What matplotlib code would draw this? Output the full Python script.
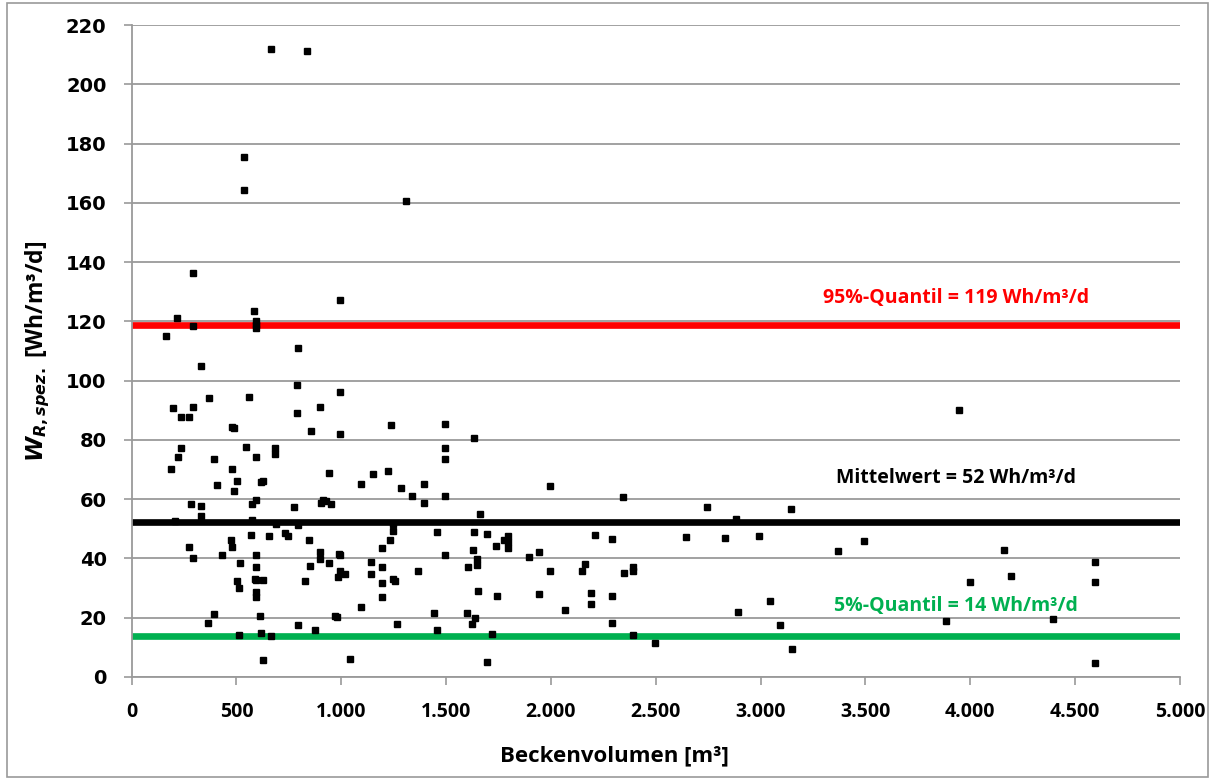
import matplotlib.pyplot as plt
from matplotlib.ticker import FuncFormatter, MultipleLocator
from matplotlib.patches import Rectangle

# Beckenvolumen [m3] und spezifischer Energieverbrauch [Wh/m3/d]
volumen = [667, 838, 538, 538, 295, 996, 586, 218, 295, 595, 595, 595, 166, 795,
           333, 791, 996, 371, 562, 199, 295, 900, 237, 276, 791, 481, 486, 857,
           996, 237, 547, 686, 686, 223, 395, 595, 190, 481, 943, 1153, 505, 628,
           619, 409, 1096, 486, 595, 576, 281, 333, 776, 915, 929, 905, 953, 333,
           209, 576, 691, 795, 571, 657, 733, 748, 476, 848, 276, 481, 295, 433,
           595, 900, 991, 996, 900, 943, 1144, 519, 595, 853, 996, 986, 1020, 1144,
           505, 590, 595, 628, 829, 514, 595, 595, 1096, 395, 614, 972, 981, 366,
           795, 876, 514, 619, 667, 628, 1043,
           1310, 1239, 1496, 1635, 1496, 1496, 1225, 1287, 1396, 1339, 1496, 1997,
           1396, 1663, 1248, 1248, 1458, 1635, 1697, 1797, 1778, 1797, 1797, 2212,
           2293, 1234, 1196, 1626, 1740, 1945, 1897, 1645, 1496, 2164, 1196, 1645,
           1606, 1368, 1997, 2150, 1248, 1258, 1196, 1196, 1654, 1744, 1945, 2193,
           2293, 2193, 2069, 1444, 1601, 1640, 1268, 1621, 2293, 1458, 1721, 1697,
           2345, 2745, 3146, 2884, 2646, 2832, 2994, 3371, 3495, 2350, 2393, 2393,
           2894, 3046, 3094, 2393, 2498, 3150,
           3948, 4162, 4596, 4196, 4000, 4596, 3886, 4396, 4596]
w_spez = [211.8, 211.1, 175.4, 164.2, 136.2, 127.1, 123.4, 121.0, 118.3, 120.1, 118.7,
          117.7, 115.0, 111.0, 104.8, 98.4, 96.1, 94.0, 94.4, 90.7, 91.0, 91.0, 87.6,
          87.6, 89.0, 84.3, 83.9, 82.9, 81.9, 77.2, 77.5, 77.2, 75.1, 74.1, 73.5,
          74.1, 70.1, 70.1, 68.7, 68.4, 66.0, 66.0, 65.7, 64.7, 65.0, 62.7, 59.6,
          58.3, 58.3, 57.6, 57.3, 59.6, 59.3, 58.6, 58.3, 54.2, 52.5, 52.9, 51.5,
          51.2, 47.8, 47.5, 48.5, 47.5, 46.1, 46.1, 43.8, 43.8, 40.1, 41.1, 41.1,
          42.1, 41.4, 41.1, 39.7, 38.4, 38.7, 38.4, 37.0, 37.4, 35.7, 33.6, 34.7,
          34.7, 32.3, 33.0, 32.6, 32.6, 32.3, 29.9, 28.6, 26.9, 23.5, 21.2, 20.5,
          20.5, 20.1, 18.1, 17.4, 15.8, 14.1, 14.7, 13.7, 5.6, 6.0,
          160.5, 84.9, 85.3, 80.5, 77.2, 73.5, 69.4, 63.7, 65.0, 61.0, 61.0, 64.3,
          58.6, 54.9, 51.5, 49.2, 48.8, 48.8, 48.2, 47.5, 46.1, 45.5, 43.4, 47.8,
          46.5, 46.1, 43.4, 42.8, 44.1, 42.1, 40.4, 39.7, 41.1, 38.0, 37.0, 37.7,
          37.0, 35.7, 35.7, 35.7, 33.0, 32.3, 31.6, 26.9, 28.9, 27.2, 27.9, 28.2,
          27.2, 24.5, 22.5, 21.5, 21.5, 19.8, 17.8, 17.8, 18.1, 15.8, 14.4, 5.0,
          60.6, 57.3, 56.6, 53.2, 47.1, 46.8, 47.5, 42.4, 45.8, 35.0, 37.0, 35.7,
          21.8, 25.5, 17.4, 14.1, 11.4, 9.3,
          90.0, 42.8, 38.7, 34.0, 32.0, 32.0, 18.8, 19.5, 4.6]

quantil_95 = 118.7
mittelwert = 52.3
quantil_5 = 13.8

labels = ['95%-Quantil = 119 Wh/m³/d', 'Mittelwert = 52 Wh/m³/d', '5%-Quantil = 14 Wh/m³/d']
label_colors = ['#ff0000', '#000000', '#00b050']

plt.rcParams['mathtext.fontset'] = 'custom'
plt.rcParams['mathtext.it'] = 'DejaVu Sans:italic:bold'
plt.rcParams['mathtext.rm'] = 'DejaVu Sans:bold'

fig = plt.figure(figsize=(12.13, 7.82), dpi=100)
ax = fig.add_axes([0.1085, 0.1343, 0.8643, 0.8337])

grey = '#9a9a9a'
ax.set_axisbelow(True)
ax.yaxis.grid(True, color=grey, linewidth=1.3)

ax.axhline(quantil_95, color=label_colors[0], linewidth=4.8, zorder=2)
ax.axhline(mittelwert, color=label_colors[1], linewidth=4.8, zorder=2)
ax.axhline(quantil_5, color=label_colors[2], linewidth=4.8, zorder=2)

ax.plot(volumen, w_spez, linestyle='none', marker='s', markersize=3.8,
        color='black', zorder=3)

ax.set_xlim(0, 5000)
ax.set_ylim(0, 220)
ax.xaxis.set_major_locator(MultipleLocator(500))
ax.yaxis.set_major_locator(MultipleLocator(20))
ax.xaxis.set_major_formatter(FuncFormatter(lambda v, p: f'{int(v):,}'.replace(',', '.')))

for side in ['top', 'right']:
    ax.spines[side].set_visible(False)
for side in ['left', 'bottom']:
    ax.spines[side].set_color(grey)
    ax.spines[side].set_linewidth(1.3)

ax.tick_params(axis='both', colors=grey, length=6, width=1.2, direction='out')
ax.tick_params(axis='x', pad=12, labelcolor='black')
ax.tick_params(axis='y', pad=12, labelcolor='black')
for lab in ax.get_xticklabels():
    lab.set_fontfamily('Open Sans')
    lab.set_fontweight('bold')
    lab.set_fontsize(14)
for lab in ax.get_yticklabels():
    lab.set_fontfamily('DejaVu Sans')
    lab.set_fontweight('bold')
    lab.set_fontsize(14)

ax.set_xlabel('Beckenvolumen [m³]', fontsize=16, fontweight='bold',
              family='Open Sans', labelpad=17, x=0.461)
ax.set_ylabel(r'$W_{R,spez.}$ [Wh/m³/d]', fontsize=16.5, fontweight='bold',
              family='Open Sans', labelpad=10)

label_y = [127.9, 67.0, 24.0]
for txt, c, y in zip(labels, label_colors, label_y):
    ax.text(3930, y, txt, color=c, fontsize=14, fontweight='bold',
            family='Open Sans', ha='center', va='center')

fig.patches.append(Rectangle((0.006, 0.006), 0.99, 0.99, transform=fig.transFigure,
                             fill=False, edgecolor=grey, linewidth=1.2))

fig.savefig('out.png', dpi=100)
